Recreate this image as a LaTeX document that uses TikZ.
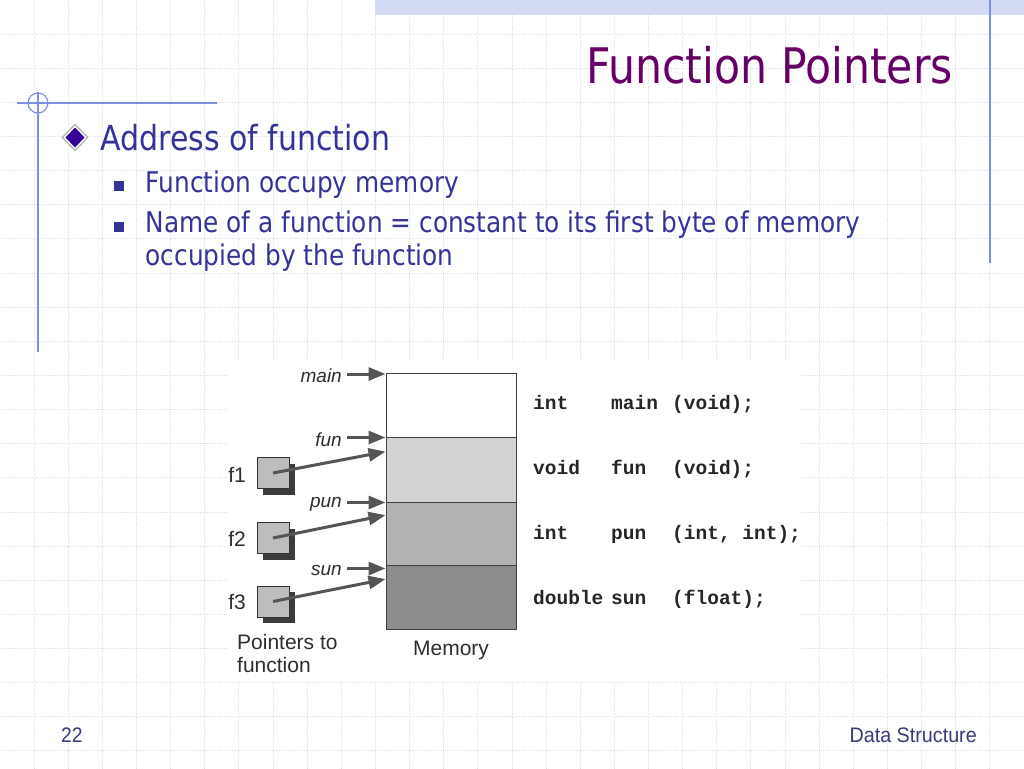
\documentclass[tikz,border=0pt]{standalone}
\usepackage{fontspec}
\setmainfont{DejaVu Sans}[FakeStretch=0.87]
\newfontfamily\arialf{Liberation Sans}
\newfontfamily\courf{Liberation Mono}
\usetikzlibrary{arrows.meta,shadows}
\definecolor{gridc}{HTML}{DDE1F3}
\definecolor{bandc}{HTML}{D3DAF4}
\definecolor{decoc}{HTML}{7F8FE0}
\definecolor{titlec}{HTML}{660066}
\definecolor{bodyc}{HTML}{333399}
\definecolor{footc}{HTML}{3A3A7A}
\definecolor{bulc}{HTML}{330099}
\definecolor{memb}{HTML}{D3D3D3}
\definecolor{memc}{HTML}{B2B2B2}
\definecolor{memd}{HTML}{8C8C8C}
\definecolor{arrc}{HTML}{555555}
\definecolor{boxc}{HTML}{BDBDBD}
\definecolor{shadc}{HTML}{3C3C3C}
\definecolor{labc}{HTML}{2E2E2E}
\tikzset{
  txt/.style={inner sep=0pt, anchor=base west, text=bodyc},
  memcell/.style={draw=black!75, line width=1.2pt, anchor=north west, inner sep=0pt, minimum width=130pt},
  arr/.style={draw=arrc, line width=3pt, -{Triangle[length=17pt,width=13pt]}, shorten >=0.5pt},
  fbox/.style={draw=black!80, line width=0.9pt, fill=boxc, minimum width=32pt, minimum height=31pt, inner sep=0pt,
    drop shadow={shadow xshift=6pt, shadow yshift=-6pt, opacity=1, fill=shadc}},
  flab/.style={inner sep=0pt, text=labc, font=\arialf\fontsize{21}{24}\selectfont},
  ilab/.style={inner sep=0pt, anchor=east, text=labc, font=\arialf\itshape\fontsize{19}{22}\selectfont},
  code/.style={inner sep=0pt, anchor=base west, text=black!85, font=\courf\bfseries\fontsize{19.5}{22}\selectfont},
}
\begin{document}
\begin{tikzpicture}[x=1pt,y=-1pt]
\path[use as bounding box, fill=white] (0,0) rectangle (1024,768);
% grid
\foreach \k in {1,...,29}
  \draw[gridc, line width=0.9pt, densely dotted] ({\k*34.1333},0) -- ({\k*34.1333},768);
\foreach \k in {1,...,22}
  \draw[gridc, line width=0.9pt, densely dotted] (0,{\k*34.1333}) -- (1024,{\k*34.1333});
% top band and decorations
\fill[bandc] (375,0) rectangle (1024,15);
\draw[decoc, line width=1.3pt] (990,0) -- (990,263);
\draw[decoc, line width=1.2pt] (17,103) -- (217,103);
\draw[decoc, line width=1.2pt] (38,92) -- (38,352);
\draw[decoc, line width=1.1pt] (38,103) circle[radius=10pt];
% title
\node[inner sep=0pt, anchor=base east, text=titlec, font=\fontsize{49}{56}\selectfont] (title) at (953,83) {Function Pointers};
% bullets
\fill[gray!60] (75,123.5) -- (88.5,137.5) -- (75,151.5) -- (61.5,137.5) -- cycle;
\fill[white] (75,125.5) -- (86.5,137.5) -- (75,149.5) -- (63.5,137.5) -- cycle;
\fill[bulc] (75,127.5) -- (84.5,137.5) -- (75,147.5) -- (65.5,137.5) -- cycle;
\node[txt, font=\fontsize{34.5}{40}\selectfont] (b1) at (100,150) {Address of function};
\fill[bodyc] (113.5,180.5) rectangle (124,191);
\node[txt, font=\fontsize{28.5}{33}\selectfont] (b2) at (145.5,192) {Function occupy memory};
\fill[bodyc] (113.5,221.5) rectangle (124,232);
\node[txt, font=\fontsize{28.5}{33}\selectfont] (b3) at (145.5,232) {Name of a function = constant to its first byte of memory};
\node[txt, font=\fontsize{28.5}{33}\selectfont] (b4) at (145.5,265.5) {occupied by the function};
% footer
\node[inner sep=0pt, anchor=base west, text=footc, font=\arialf\fontsize{21}{24}\selectfont] (pg) at (61,742.5) {\scalebox{0.92}[1]{22}};
\node[inner sep=0pt, anchor=base east, text=footc, font=\arialf\fontsize{21}{24}\selectfont] (ds) at (977,742.5) {\scalebox{0.94}[1]{Data Structure}};
% diagram background
\fill[white] (228,363) rectangle (797,681);
% memory
\node[memcell, fill=white, minimum height=64pt] (m1) at (386,373) {};
\node[memcell, fill=memb, minimum height=65pt] (m2) at (386,437) {};
\node[memcell, fill=memc, minimum height=63pt] (m3) at (386,502) {};
\node[memcell, fill=memd, minimum height=64pt] (m4) at (386,565) {};
% function labels with arrows
\node[ilab] (lmain) at (342,376) {main};
\node[ilab] (lfun) at (342,440) {fun};
\node[ilab] (lpun) at (342,504.5) {pun};
\node[ilab] (lsun) at (342,570.5) {sun};
\coordinate (amain) at (347,374);
\coordinate (afun) at (347,437.5);
\coordinate (apun) at (347,502.5);
\coordinate (asun) at (347,568.5);
\draw[arr] (amain) -- (amain -| m1.west);
\draw[arr] (afun) -- (afun -| m2.west);
\draw[arr] (apun) -- (apun -| m3.west);
\draw[arr] (asun) -- (asun -| m4.west);
% pointer boxes
\node[fbox] (f1) at (273,473) {};
\node[fbox] (f2) at (273,538) {};
\node[fbox] (f3) at (273,601.5) {};
\node[flab, anchor=east] (lf1) at (246,475) {f1};
\node[flab, anchor=east] (lf2) at (246,539) {f2};
\node[flab, anchor=east] (lf3) at (246,602) {f3};
\coordinate (t1) at (386,451.5);
\coordinate (t2) at (386,515);
\coordinate (t3) at (386,579);
\draw[arr] (f1.center) -- (t1);
\draw[arr] (f2.center) -- (t2);
\draw[arr] (f3.center) -- (t3);
\node[flab, anchor=west] (ptr1) at (237,642) {Pointers to};
\node[flab, anchor=west] (ptr2) at (237,664.5) {function};
\node[flab] (mem) at (451,650) {Memory};
% code
\node[code] (c1a) at (533,409) {int};
\node[code] (c1b) at (611,409) {main};
\node[code] (c1c) at (672,409) {(void);};
\node[code] (c2a) at (533,474) {void};
\node[code] (c2b) at (611,474) {fun};
\node[code] (c2c) at (672,474) {(void);};
\node[code] (c3a) at (533,539) {int};
\node[code] (c3b) at (611,539) {pun};
\node[code] (c3c) at (672,539) {(int, int);};
\node[code] (c4a) at (533,604) {double};
\node[code] (c4b) at (611,604) {sun};
\node[code] (c4c) at (672,604) {(float);};
\end{tikzpicture}
\end{document}
